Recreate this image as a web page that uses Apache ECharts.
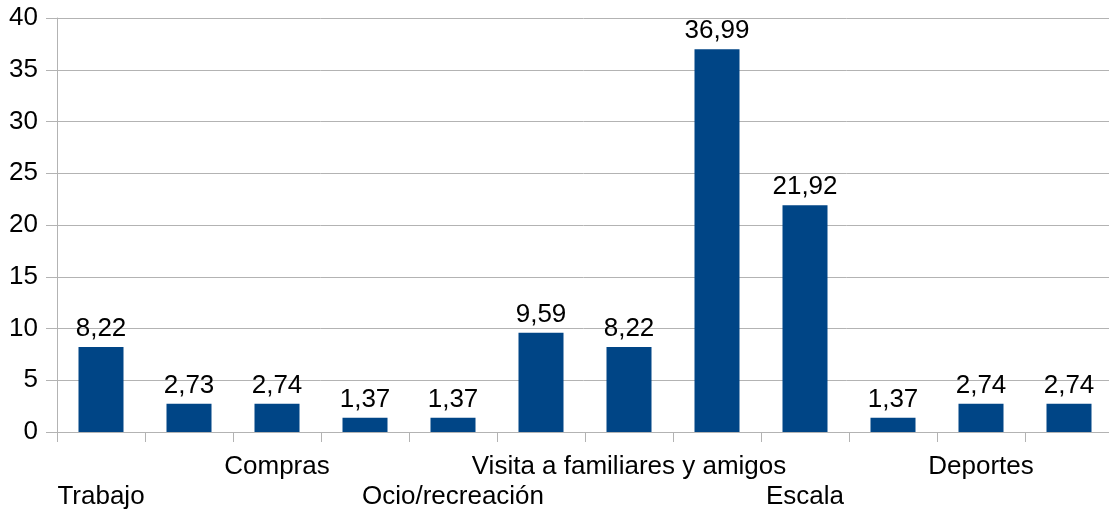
<!DOCTYPE html>
<html>
<head>
<meta charset="utf-8">
<script src="https://cdn.jsdelivr.net/npm/echarts@6/dist/echarts.min.js"></script>
<style>
  html, body { margin: 0; padding: 0; background: #fff; }
  #chart { width: 1109px; height: 516px; }
</style>
</head>
<body>
<div id="chart"></div>
<script>
// datos
const categorias = ["Trabajo", "", "Compras", "", "Ocio/recreación", "", "Visita a familiares y amigos", "", "Escala", "", "Deportes", ""];
const valores = [8.22, 2.73, 2.74, 1.37, 1.37, 9.59, 8.22, 36.99, 21.92, 1.37, 2.74, 2.74];
const ticksY = [0, 5, 10, 15, 20, 25, 30, 35, 40];

const fuente = "Liberation Sans, Arial, sans-serif";
const gris = "#b3b3b3";
const tam = 26;

const chart = echarts.init(document.getElementById("chart"));
chart.setOption({
  animation: false,
  grid: { left: 57, top: 18, width: 1056, height: 414, containLabel: false, outerBoundsMode: "none" },
  xAxis: {
    type: "category",
    data: categorias,
    axisLine: { lineStyle: { color: gris, width: 1 } },
    axisTick: { show: true, length: 10, alignWithLabel: false, interval: 0, lineStyle: { color: gris } },
    axisLabel: {
      interval: 1,
      margin: 22,
      color: "#000",
      fontFamily: fuente,
      fontSize: tam,
      formatter: (nombre, i) => (i % 4 === 0 ? "{lo|" + nombre + "}" : "{hi|" + nombre + "}"),
      rich: {
        hi: { fontSize: tam, fontFamily: fuente, color: "#000", padding: [0, 0, 0, 0] },
        lo: { fontSize: tam, fontFamily: fuente, color: "#000", padding: [30, 0, 0, 0] }
      }
    }
  },
  yAxis: {
    type: "value",
    min: ticksY[0],
    max: ticksY[ticksY.length - 1],
    interval: 5,
    axisLine: { show: true, lineStyle: { color: gris } },
    axisTick: { show: true, length: 11, lineStyle: { color: gris } },
    splitLine: { lineStyle: { color: gris } },
    axisLabel: { margin: 19, color: "#000", fontFamily: fuente, fontSize: tam }
  },
  series: [{
    type: "bar",
    data: valores,
    barWidth: 45,
    itemStyle: { color: "#004586" },
    label: {
      show: true,
      position: "top",
      distance: 5,
      color: "#000",
      fontFamily: fuente,
      fontSize: tam,
      formatter: p => p.value.toFixed(2).replace(".", ",")
    }
  }]
});
</script>
</body>
</html>
